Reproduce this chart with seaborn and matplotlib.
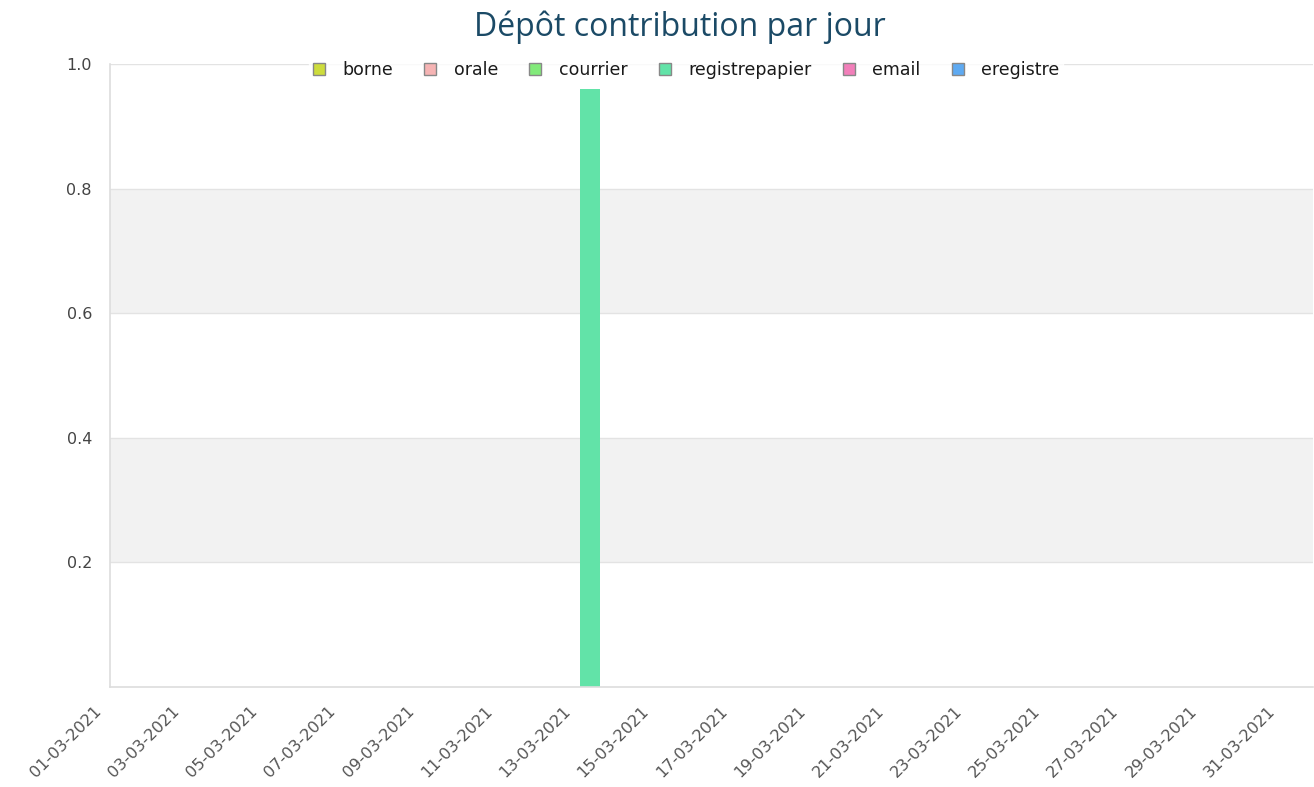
import matplotlib

matplotlib.use("Agg")
import matplotlib.pyplot as plt
import matplotlib.transforms as mtransforms
import pandas as pd
import seaborn as sns
from matplotlib.patches import Patch

# data
days = [f"{d:02d}-03-2021" for d in range(1, 32)]
modes = ["borne", "orale", "courrier", "registrepapier", "email", "eregistre"]
colors = ["#cddc3c", "#f6b4b4", "#82ea7a", "#62e3a8", "#f27fba", "#5eaaf2"]
registrepapier = [0] * 31
registrepapier[12] = 0.96
counts = {m: [0] * 31 for m in modes}
counts["registrepapier"] = registrepapier


def main() -> None:
    rows = []
    for mode in modes:
        for i, value in enumerate(counts[mode]):
            rows.append({"day": i, "mode": mode, "count": value})
    df = pd.DataFrame(rows)

    sns.set_style("white")
    plt.rcParams["font.family"] = ["DejaVu Sans"]
    fig = plt.figure(figsize=(13.14, 7.87), dpi=100)
    ax = fig.add_axes([0.0837, 0.1271, 0.9155, 0.7916])

    # alternating bands
    for lo, hi in [(0.2, 0.4), (0.6, 0.8)]:
        ax.axhspan(lo, hi, color="#f2f2f2", zorder=0, lw=0)
    for y in [0.2, 0.4, 0.6, 0.8, 1.0]:
        ax.axhline(y, color="#e3e3e3", lw=1, zorder=0.5)

    sns.histplot(
        data=df,
        x="day",
        weights="count",
        hue="mode",
        hue_order=modes,
        palette=colors,
        multiple="stack",
        discrete=True,
        shrink=0.51,
        linewidth=0,
        alpha=1,
        legend=False,
        ax=ax,
    )

    ax.set_xlim(-0.26, 30.47)
    ax.set_ylim(0, 1.0)
    ax.set_yticks([0.2, 0.4, 0.6, 0.8, 1.0])
    ax.set_yticklabels(["0.2", "0.4", "0.6", "0.8", "1.0"])
    ax.tick_params(axis="y", length=0, pad=13, labelsize=11.5, labelcolor="#444444")
    ax.set_xticks(range(0, 31, 2))
    ax.set_xticklabels(days[::2], rotation=45, ha="right", rotation_mode="anchor")
    ax.tick_params(axis="x", length=0, pad=12, labelsize=11.6, labelcolor="#555555")
    offset = mtransforms.ScaledTranslation(-27 / 100, 0, fig.dpi_scale_trans)
    for lbl in ax.get_xticklabels():
        lbl.set_transform(lbl.get_transform() + offset)
    ax.set_xlabel("")
    ax.set_ylabel("")

    for side in ["top", "right"]:
        ax.spines[side].set_visible(False)
    for side in ["left", "bottom"]:
        ax.spines[side].set_color("#dddddd")
        ax.spines[side].set_linewidth(1.2)

    handles = [
        Patch(facecolor=c, edgecolor="#888888", linewidth=1) for c in colors
    ]
    leg = fig.legend(
        handles,
        modes,
        loc="center",
        bbox_to_anchor=(686 / 1314, 1 - 70 / 787),
        ncol=6,
        frameon=True,
        fontsize=12.5,
        handlelength=0.7,
        handleheight=0.7,
        handletextpad=1.0,
        columnspacing=1.8,
        borderpad=0.2,
    )
    leg.get_frame().set_facecolor("white")
    leg.get_frame().set_edgecolor("white")
    for t in leg.get_texts():
        t.set_color("#1a1a1a")

    fig.text(
        680 / 1314,
        1 - 27 / 787,
        "Dépôt contribution par jour",
        ha="center",
        va="center",
        fontsize=23,
        color="#1b4a66",
        family=["Open Sans", "DejaVu Sans"],
    )

    plt.savefig("out.png", dpi=100)


if __name__ == "__main__":
    main()
